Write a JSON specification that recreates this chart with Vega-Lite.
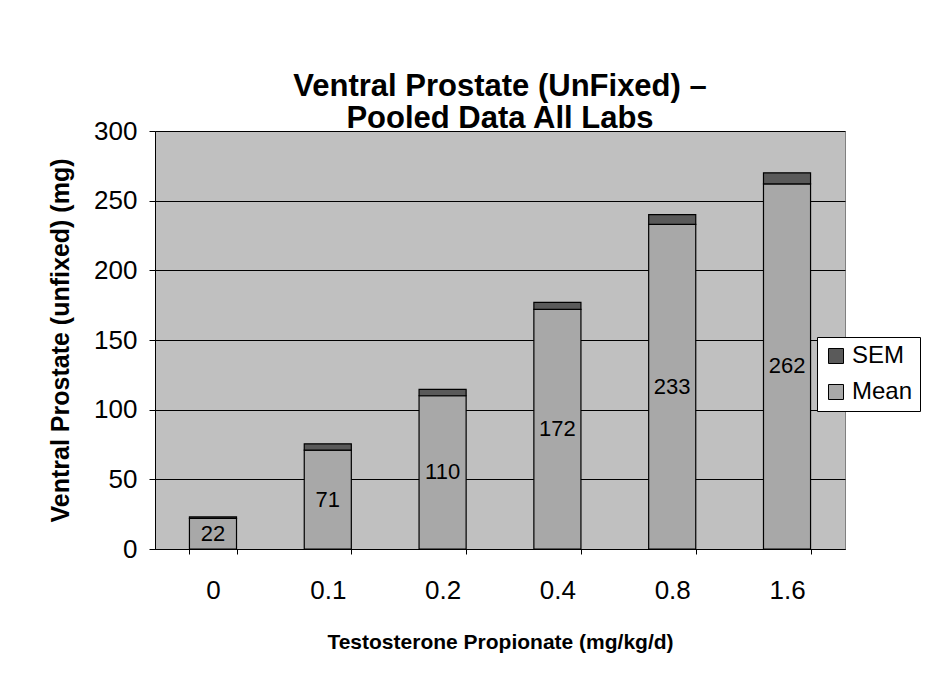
{
  "$schema": "https://vega.github.io/schema/vega-lite/v6.json",
  "width": 690,
  "height": 418,
  "autosize": {"type": "none"},
  "padding": {"left": 155, "top": 131, "right": 85, "bottom": 142},
  "background": "white",
  "config": {
    "font": "Liberation Sans",
    "view": {"fill": "#C0C0C0", "stroke": "#808080", "strokeWidth": 1}
  },
  "title": {
    "text": ["Ventral Prostate (UnFixed) –", "Pooled Data All Labs"],
    "fontSize": 31,
    "fontWeight": "bold",
    "color": "black",
    "anchor": "middle",
    "lineHeight": 32,
    "offset": -17
  },
  "data": {
    "values": [
      {"dose": "0", "component": "Mean", "value": 22, "mean": 22},
      {"dose": "0", "component": "SEM", "value": 1, "mean": 22},
      {"dose": "0.1", "component": "Mean", "value": 71, "mean": 71},
      {"dose": "0.1", "component": "SEM", "value": 4.5, "mean": 71},
      {"dose": "0.2", "component": "Mean", "value": 110, "mean": 110},
      {"dose": "0.2", "component": "SEM", "value": 4.5, "mean": 110},
      {"dose": "0.4", "component": "Mean", "value": 172, "mean": 172},
      {"dose": "0.4", "component": "SEM", "value": 5, "mean": 172},
      {"dose": "0.8", "component": "Mean", "value": 233, "mean": 233},
      {"dose": "0.8", "component": "SEM", "value": 7, "mean": 233},
      {"dose": "1.6", "component": "Mean", "value": 262, "mean": 262},
      {"dose": "1.6", "component": "SEM", "value": 8, "mean": 262}
    ]
  },
  "encoding": {
    "x": {
      "field": "dose",
      "type": "ordinal",
      "sort": ["0", "0.1", "0.2", "0.4", "0.8", "1.6"],
      "scale": {"paddingInner": 0.59, "paddingOuter": 0.3},
      "axis": {
        "title": "Testosterone Propionate (mg/kg/d)",
        "titleFontSize": 21,
        "titleFontWeight": "bold",
        "titleColor": "black",
        "titlePadding": 28,
        "labelFontSize": 26,
        "labelColor": "black",
        "labelAngle": 0,
        "labelPadding": 23,
        "tickBand": "extent",
        "tickColor": "black",
        "tickSize": 5,
        "domainColor": "black",
        "grid": false
      }
    }
  },
  "layer": [
    {
      "mark": {"type": "bar", "stroke": "black", "strokeWidth": 1.2},
      "encoding": {
        "y": {
          "field": "value",
          "type": "quantitative",
          "stack": "zero",
          "scale": {"domain": [0, 300], "nice": false},
          "axis": {
            "title": "Ventral Prostate (unfixed) (mg)",
            "titleFontSize": 25,
            "titleFontWeight": "bold",
            "titleColor": "black",
            "titlePadding": 20,
            "labelFontSize": 26,
            "labelColor": "black",
            "labelPadding": 12,
            "values": [0, 50, 100, 150, 200, 250, 300],
            "tickColor": "black",
            "tickSize": 6,
            "domainColor": "black",
            "grid": true,
            "gridColor": "black",
            "gridWidth": 1
          }
        },
        "color": {
          "field": "component",
          "type": "nominal",
          "scale": {"domain": ["SEM", "Mean"], "range": ["#5A5A5A", "#A8A8A8"]},
          "legend": {
            "title": null,
            "orient": "none",
            "legendX": 662,
            "legendY": 206,
            "fillColor": "white",
            "strokeColor": "black",
            "padding": 7,
            "symbolType": "square",
            "symbolSize": 225,
            "symbolStrokeColor": "black",
            "symbolStrokeWidth": 1,
            "labelFontSize": 24,
            "labelColor": "black",
            "labelOffset": 4,
            "rowPadding": 12
          }
        },
        "order": {"field": "component", "sort": "ascending"}
      }
    },
    {
      "transform": [
        {"filter": "datum.component === 'Mean'"},
        {"calculate": "datum.mean / 2", "as": "mid"}
      ],
      "mark": {"type": "text", "fontSize": 22, "color": "black", "baseline": "middle"},
      "encoding": {
        "y": {"field": "mid", "type": "quantitative"},
        "text": {"field": "mean", "type": "quantitative"}
      }
    }
  ]
}
